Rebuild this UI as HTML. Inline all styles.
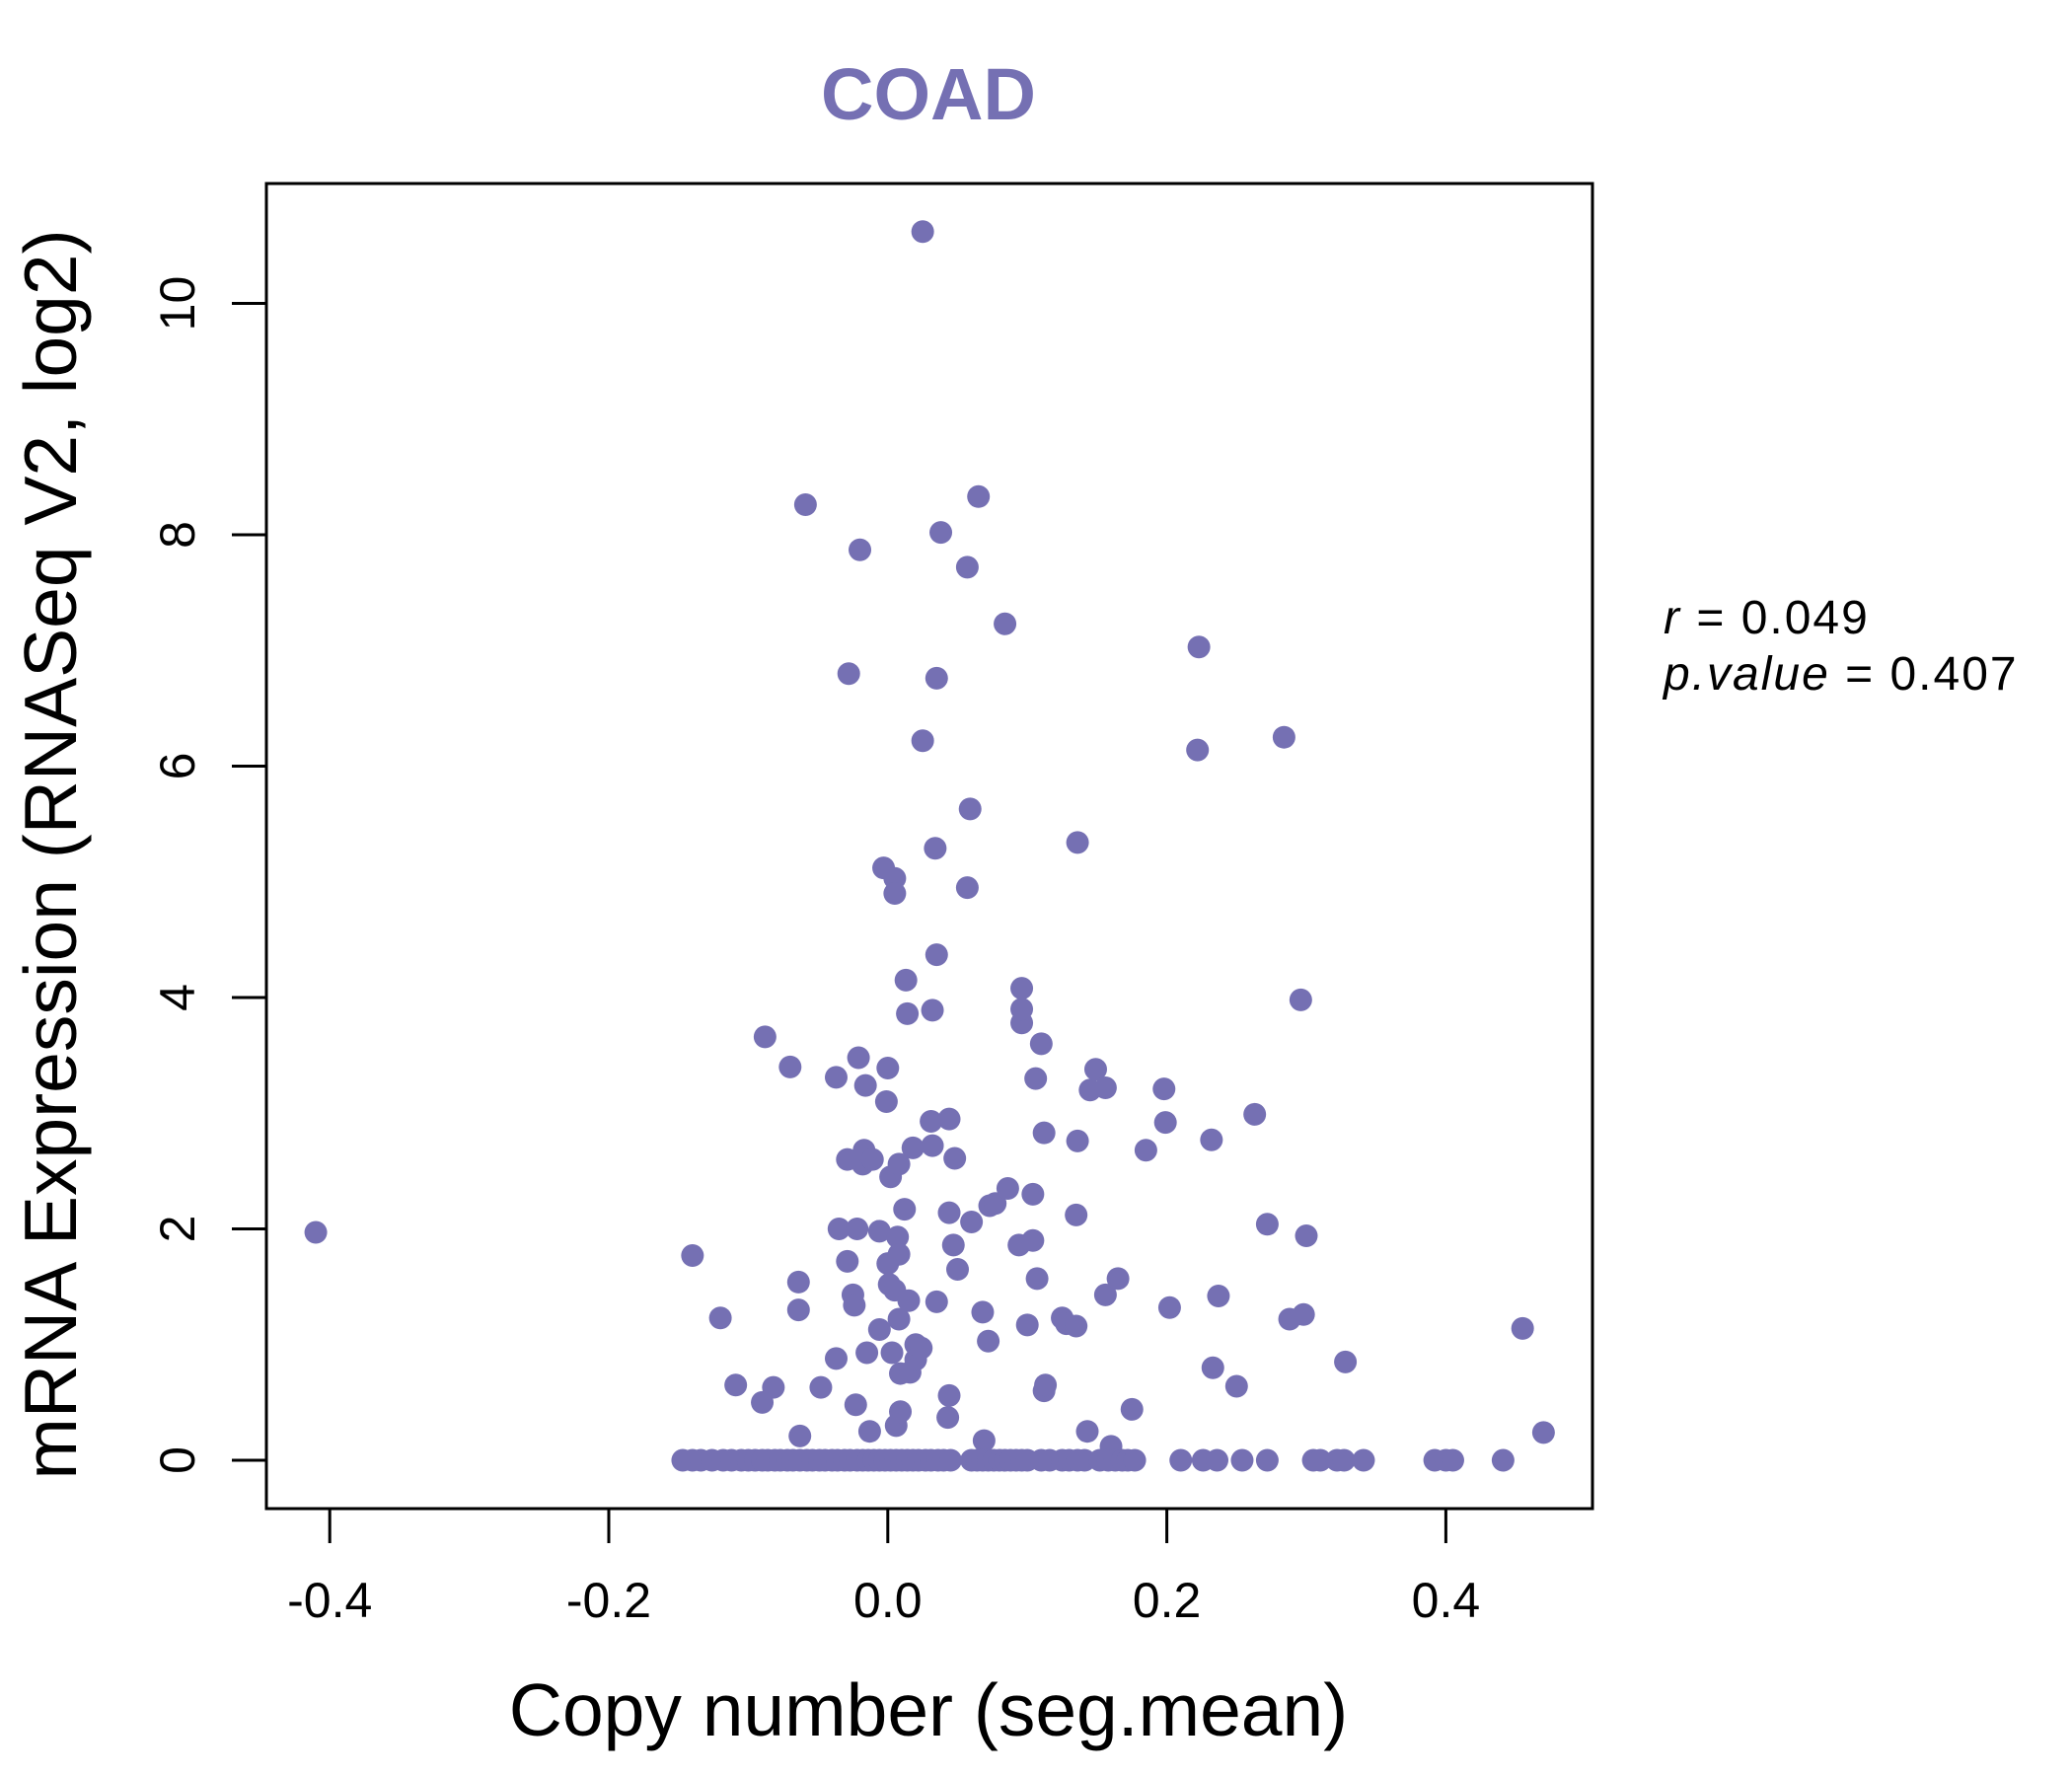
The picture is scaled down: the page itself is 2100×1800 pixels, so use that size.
<!DOCTYPE html>
<html><head><meta charset="utf-8"><style>
html,body{margin:0;padding:0;background:#fff;}
svg{display:block;font-family:"Liberation Sans",sans-serif;}
</style></head><body>
<svg id="chart" width="2100" height="1800" viewBox="0 0 2100 1800">
<text x="941" y="121" text-anchor="middle" font-size="74" font-weight="bold" fill="#7570b3">COAD</text>
<g id="points"></g>
<rect x="270" y="186" width="1344" height="1343" fill="none" stroke="#000" stroke-width="3"/>
<g id="xaxis"></g>
<g id="yaxis"></g>
<text x="941" y="1759" text-anchor="middle" font-size="75">Copy number (seg.mean)</text>
<text transform="translate(77,866) rotate(-90)" text-anchor="middle" font-size="75">mRNA Expression (RNASeq V2, log2)</text>
<text x="1686" y="642" font-size="48" letter-spacing="2"><tspan font-style="italic">r</tspan> = 0.049</text>
<text x="1686" y="699" font-size="48" letter-spacing="2"><tspan font-style="italic">p.value</tspan> = 0.407</text>
</svg>
<script>
const xs = [-0.41,-0.14,-0.12,-0.109,-0.09,-0.088,-0.082,-0.07,-0.064,-0.064,-0.063,-0.059,-0.048,-0.037,-0.037,-0.035,-0.029,-0.029,-0.028,-0.025,-0.024,-0.023,-0.022,-0.021,-0.02,-0.018,-0.017,-0.016,-0.015,-0.013,-0.011,-0.006,-0.006,-0.003,-0.001,0,0,0.001,0.002,0.003,0.005,0.005,0.005,0.006,0.007,0.008,0.008,0.008,0.009,0.009,0.012,0.013,0.014,0.015,0.016,0.018,0.02,0.02,0.024,0.025,0.025,0.031,0.032,0.032,0.034,0.035,0.035,0.035,0.038,0.043,0.044,0.044,0.044,0.047,0.048,0.05,0.057,0.057,0.059,0.06,0.065,0.068,0.069,0.072,0.073,0.077,0.084,0.086,0.094,0.096,0.096,0.096,0.1,0.104,0.104,0.106,0.107,0.11,0.112,0.112,0.113,0.125,0.128,0.135,0.135,0.136,0.136,0.143,0.145,0.149,0.156,0.156,0.16,0.165,0.175,0.185,0.198,0.199,0.202,0.222,0.223,0.232,0.233,0.237,0.25,0.263,0.272,0.284,0.288,0.296,0.298,0.3,0.328,0.455,0.47];
const ys = [1.97,1.77,1.23,0.65,0.5,3.66,0.63,3.4,1.54,1.3,0.21,8.26,0.63,3.31,0.88,2.0,2.6,1.72,6.8,1.43,1.34,0.48,2.0,3.48,7.87,2.56,2.68,3.24,0.93,0.25,2.6,1.13,1.98,5.12,3.1,3.39,1.7,1.52,2.45,0.93,5.03,4.9,1.47,0.3,1.93,1.22,2.56,1.78,0.42,0.75,2.17,4.15,3.86,1.38,0.76,2.7,0.87,1.0,0.97,6.22,10.62,2.93,2.72,3.89,5.29,6.76,4.37,1.37,8.02,0.37,0.56,2.14,2.95,1.86,2.61,1.65,4.95,7.72,5.63,2.06,8.33,1.28,0.17,1.03,2.2,2.22,7.23,2.35,1.86,3.78,4.08,3.9,1.17,1.9,2.3,3.3,1.57,3.6,0.6,2.83,0.65,1.23,1.18,1.16,2.12,5.34,2.76,0.25,3.2,3.38,3.22,1.43,0.12,1.57,0.44,2.68,3.21,2.92,1.32,6.14,7.03,2.77,0.8,1.42,0.64,2.99,2.04,6.25,1.22,3.98,1.26,1.94,0.85,1.14,0.24];
const zeroXs = [-0.147,-0.14,-0.134,-0.126,-0.118,-0.112,-0.105,-0.1,-0.095,-0.09,-0.086,-0.081,-0.077,-0.072,-0.068,-0.063,-0.058,-0.054,-0.049,-0.045,-0.04,-0.036,-0.031,-0.027,-0.022,-0.018,-0.014,-0.01,-0.006,-0.002,0.002,0.006,0.01,0.014,0.018,0.022,0.027,0.031,0.036,0.04,0.045,0.06,0.064,0.068,0.072,0.076,0.08,0.084,0.088,0.092,0.096,0.1,0.11,0.116,0.125,0.13,0.136,0.141,0.152,0.158,0.163,0.168,0.172,0.177,0.21,0.226,0.236,0.254,0.272,0.305,0.31,0.322,0.327,0.341,0.392,0.4,0.405,0.441];
const xTicks = [-0.4,-0.2,0.0,0.2,0.4];
const xTickLabels = ["-0.4","-0.2","0.0","0.2","0.4"];
const yTicks = [0,2,4,6,8,10];
const yTickLabels = ["0","2","4","6","8","10"];

const NS = "http://www.w3.org/2000/svg";
function sx(v){ return 899.8 + v * 1414; }
function sy(v){ return 1480 - v * 117.25; }
const pg = document.getElementById('points');
function dot(x,y){
  const c = document.createElementNS(NS,'circle');
  c.setAttribute('cx', sx(x)); c.setAttribute('cy', sy(y)); c.setAttribute('r', 11.5);
  c.setAttribute('fill', '#7570b3');
  
  
  pg.appendChild(c);
}
for (let i=0;i<xs.length;i++) dot(xs[i], ys[i]);
for (let i=0;i<zeroXs.length;i++) dot(zeroXs[i], 0);

const xa = document.getElementById('xaxis');
xTicks.forEach((t,i)=>{
  const l = document.createElementNS(NS,'line');
  l.setAttribute('x1', sx(t)); l.setAttribute('x2', sx(t));
  l.setAttribute('y1', 1529); l.setAttribute('y2', 1564);
  l.setAttribute('stroke', '#000'); l.setAttribute('stroke-width', 3);
  
  
  xa.appendChild(l);
  const tx = document.createElementNS(NS,'text');
  tx.setAttribute('x', sx(t)); tx.setAttribute('y', 1639);
  tx.setAttribute('text-anchor', 'middle'); tx.setAttribute('font-size', 50);
  tx.textContent = xTickLabels[i];
  
  
  xa.appendChild(tx);
});
const ya = document.getElementById('yaxis');
yTicks.forEach((t,i)=>{
  const l = document.createElementNS(NS,'line');
  l.setAttribute('x1', 235); l.setAttribute('x2', 270);
  l.setAttribute('y1', sy(t)); l.setAttribute('y2', sy(t));
  l.setAttribute('stroke', '#000'); l.setAttribute('stroke-width', 3);
  
  
  ya.appendChild(l);
  const tx = document.createElementNS(NS,'text');
  tx.setAttribute('transform', 'translate(197,' + sy(t) + ') rotate(-90)');
  tx.setAttribute('text-anchor', 'middle'); tx.setAttribute('font-size', 50);
  tx.textContent = yTickLabels[i];
  
  
  ya.appendChild(tx);
});
</script>
</body></html>
